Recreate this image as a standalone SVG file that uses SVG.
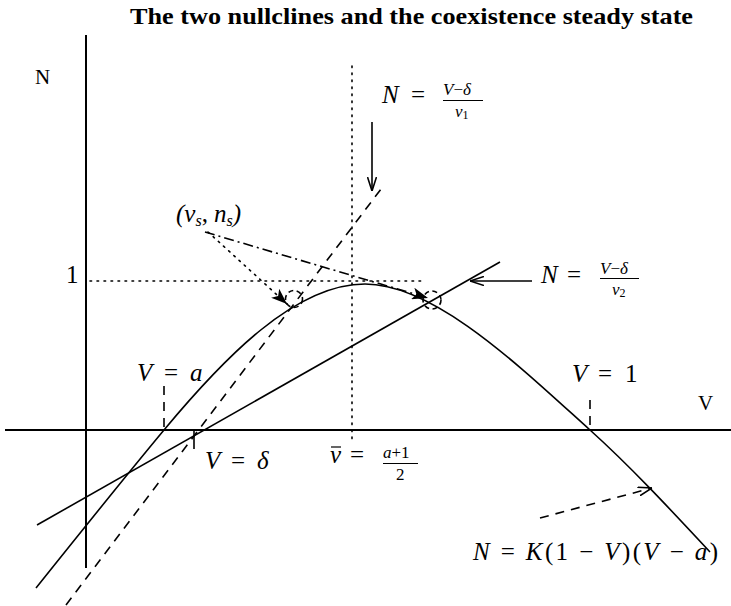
<svg xmlns="http://www.w3.org/2000/svg" width="731" height="606" viewBox="0 0 731 606">
<style>
.ln{fill:none;stroke:#000;stroke-width:1.6}
.ax{fill:none;stroke:#000;stroke-width:2}
.dot{fill:none;stroke:#000;stroke-width:1.6;stroke-dasharray:1.6 5.4;stroke-linecap:round}
.dsh{fill:none;stroke:#000;stroke-width:1.6;stroke-dasharray:9 7}
.dd{fill:none;stroke:#000;stroke-width:1.6;stroke-dasharray:10 4 2 4}
.cir{fill:none;stroke:#000;stroke-width:1.6;stroke-dasharray:5 3.5}
.m{font-family:"Liberation Serif","DejaVu Serif",serif;font-style:italic;font-size:25px;fill:#000}
.r{font-family:"Liberation Serif","DejaVu Serif",serif;font-size:25px;fill:#000}
.s{font-family:"Liberation Serif","DejaVu Serif",serif;font-size:17px;fill:#000}
.t{font-family:"Liberation Serif","DejaVu Serif",serif;font-weight:bold;font-size:23px;fill:#000}
</style>
<defs>
<marker id="open" viewBox="0 0 14 10" refX="14" refY="5" markerWidth="14" markerHeight="10" markerUnits="userSpaceOnUse" orient="auto">
<path d="M0,0.5 L14,5 L0,9.5" fill="none" stroke="#000" stroke-width="1.6"/>
</marker>
<marker id="fill" viewBox="0 0 16 12" refX="16" refY="6" markerWidth="16" markerHeight="12" markerUnits="userSpaceOnUse" orient="auto">
<path d="M0,0 L16,6 L0,12 L4,6 Z" fill="#000"/>
</marker>
</defs>

<text class="t" x="130" y="24" textLength="563" lengthAdjust="spacingAndGlyphs">The two nullclines and the coexistence steady state</text>

<g id="axes">
<line class="ax" x1="5" y1="430" x2="731" y2="430"/>
<line class="ax" x1="86" y1="35" x2="86" y2="568"/>
</g>

<g id="connectors">
<line class="dot" x1="90" y1="281" x2="425" y2="281"/>
<line class="dot" x1="352" y1="66" x2="352" y2="444"/>
<line class="dsh" x1="164" y1="386" x2="164" y2="430"/>
<line class="dsh" x1="590" y1="400" x2="590" y2="430"/>
<line class="ln" x1="194" y1="430" x2="194" y2="449"/>
<path id="cubic" class="ln" d="M36,588 C76,538 124,478 164,430 C224,358 295,284 365,284 C435,284 520,367 590,430 C630,466 670,509 710,552"/>
<line id="nu2" class="ln" x1="37" y1="525" x2="500" y2="262"/>
<line id="nu1" class="dsh" x1="66" y1="605" x2="381" y2="189"/>
<circle class="cir" cx="294" cy="299" r="8.5"/>
<circle class="cir" cx="432" cy="300" r="9"/>
<line class="dot" x1="208" y1="232" x2="287" y2="304" marker-end="url(#fill)"/>
<line class="dd" x1="205" y1="232" x2="428" y2="298" marker-end="url(#fill)"/>
<line class="ln" x1="372" y1="122" x2="372" y2="191" marker-end="url(#open)"/>
<line class="ln" x1="532" y1="281" x2="470" y2="281" marker-end="url(#open)"/>
<line class="dsh" x1="540" y1="518" x2="652" y2="488" marker-end="url(#open)"/>
</g>

<g id="label-N"><text class="r" x="35" y="84" style="font-size:21px">N</text></g>
<g id="label-V"><text class="r" x="698" y="410" style="font-size:21px">V</text></g>
<g id="label-one"><text class="r" x="66" y="283">1</text></g>

<g id="label-nu1">
<text class="m" x="382" y="103">N</text>
<text class="r" x="411" y="103">=</text>
<text class="s" x="443" y="95"><tspan font-style="italic">V</tspan>−<tspan font-style="italic">δ</tspan></text>
<line x1="443" y1="100.5" x2="483" y2="100.5" stroke="#000" stroke-width="1"/>
<text class="s" x="455" y="117"><tspan font-style="italic">ν</tspan><tspan font-size="12" dy="2">1</tspan></text>
</g>

<g id="label-nu2">
<text class="m" x="541" y="283">N</text>
<text class="r" x="567" y="283">=</text>
<text class="s" x="600" y="274"><tspan font-style="italic">V</tspan>−<tspan font-style="italic">δ</tspan></text>
<line x1="600" y1="278.5" x2="639" y2="278.5" stroke="#000" stroke-width="1"/>
<text class="s" x="612" y="295"><tspan font-style="italic">ν</tspan><tspan font-size="12" dy="2">2</tspan></text>
</g>

<g id="label-steady">
<text class="m" x="176" y="222">(<tspan>v</tspan><tspan font-size="16" dy="4">s</tspan><tspan dy="-4" font-style="normal">,</tspan><tspan dx="6">n</tspan><tspan font-size="16" dy="4">s</tspan><tspan dy="-4">)</tspan></text>
</g>

<g id="label-Va">
<text class="m" x="137" y="381">V</text>
<text class="r" x="164" y="381">=</text>
<text class="m" x="190" y="381">a</text>
</g>

<g id="label-Vdelta">
<text class="m" x="205" y="469">V</text>
<text class="r" x="231" y="469">=</text>
<text class="m" x="257" y="469">δ</text>
</g>

<g id="label-V1">
<text class="m" x="572" y="382">V</text>
<text class="r" x="598" y="382">=</text>
<text class="r" x="625" y="382">1</text>
</g>

<g id="label-vbar">
<text class="m" x="330" y="463">v</text>
<line x1="331" y1="447" x2="341" y2="447" stroke="#000" stroke-width="1.2"/>
<text class="r" x="350" y="463">=</text>
<text class="s" x="383" y="458"><tspan font-style="italic">a</tspan>+1</text>
<line x1="383" y1="463.5" x2="418" y2="463.5" stroke="#000" stroke-width="1"/>
<text class="s" x="396" y="480">2</text>
</g>

<g id="label-cubic">
<text class="m" x="473" y="560" textLength="245" lengthAdjust="spacing">N <tspan font-style="normal">=</tspan> K<tspan font-style="normal">(1 − </tspan>V<tspan font-style="normal">)(</tspan>V<tspan font-style="normal"> − </tspan>a<tspan font-style="normal">)</tspan></text>
</g>
</svg>
